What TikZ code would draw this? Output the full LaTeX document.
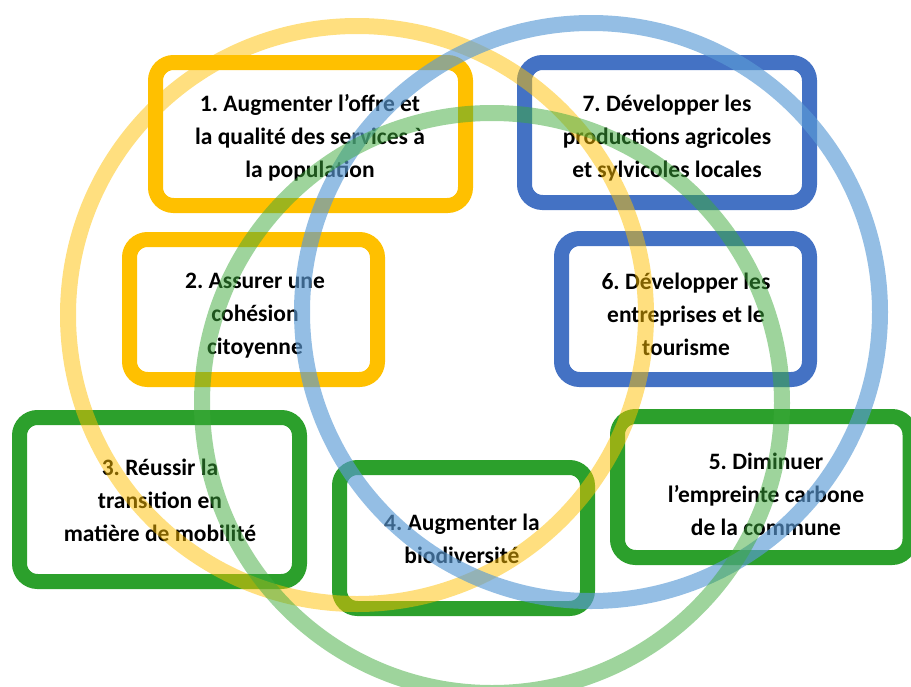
\documentclass[tikz,border=0pt]{standalone}
\usepackage{fontspec}
\setmainfont{Carlito}
\frenchspacing
\definecolor{cOr}{HTML}{FFC000}
\definecolor{cBl}{HTML}{4472C4}
\definecolor{cGr}{HTML}{2CA02C}
\definecolor{ringY}{HTML}{FFC000}
\definecolor{ringB}{HTML}{5B9BD5}
\definecolor{ringG}{HTML}{3DAA3A}
\begin{document}
\begin{tikzpicture}[x=1pt,y=-1pt,
  goalbox/.style={draw,line width=15pt,rounded corners=18pt},
  goaltext/.style={align=center,font=\fontsize{23.5}{33}\selectfont\bfseries\frenchspacing,inner sep=0pt},
  ring/.style={line width=16pt,draw opacity=0.5}]
\useasboundingbox (0,0) rectangle (911,686);
% boxes
\draw[goalbox,cOr] (155.5,62.5) rectangle (465.5,205.5);
\draw[goalbox,cBl] (524.5,62.5) rectangle (809.5,202.5);
\draw[goalbox,cOr] (129.5,239.5) rectangle (377.5,379.5);
\draw[goalbox,cBl] (561.5,238.5) rectangle (809.5,379.5);
\draw[goalbox,cGr] (19.5,417.5) rectangle (299.5,581.5);
\draw[goalbox,cGr] (339.5,467.5) rectangle (587.5,608.5);
\draw[goalbox,cGr] (617.5,416.5) rectangle (910,557.5);
% texts
\node[goaltext] (t1) at (310,138) {1. Augmenter l’offre et\\la qualité des services à\\la population};
\node[goaltext] (t7) at (667,138) {7. Développer les\\productions agricoles\\et sylvicoles locales};
\node[goaltext] (t2) at (255,316) {2. Assurer une\\cohésion\\citoyenne};
\node[goaltext] (t6) at (686,314) {6. Développer les\\entreprises et le\\tourisme};
\node[goaltext] (t3) at (160,500) {3. Réussir la\\transition en\\matière de mobilité};
\node[goaltext] (t4) at (462,539) {4. Augmenter la\\biodiversité};
\node[goaltext] (t5) at (766,494) {5. Diminuer\\l’empreinte carbone\\de la commune};
% rings
\draw[ring,ringY] (357,315) circle[radius=289];
\draw[ring,ringB,draw opacity=0.65] (591,312) circle[radius=289];
\draw[ring,ringG,draw opacity=0.5] (492,403) circle[radius=290];
\end{tikzpicture}
\end{document}
